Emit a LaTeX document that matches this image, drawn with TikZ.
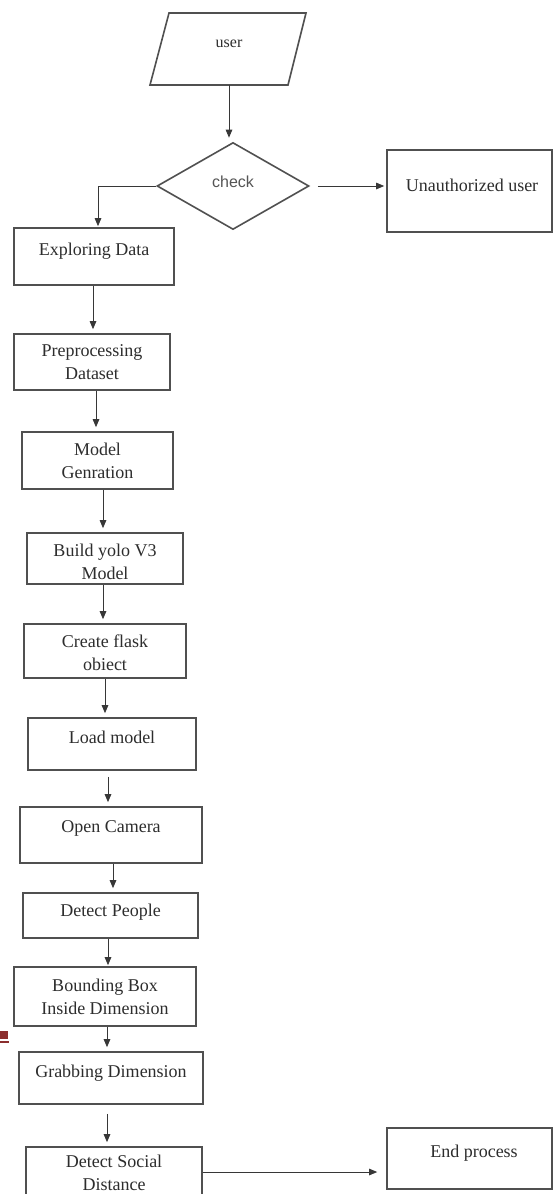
\documentclass[tikz,border=0pt]{standalone}
\usepackage{fontspec}
\setmainfont{Liberation Serif}
\newfontfamily\sansf{Liberation Sans}
\usetikzlibrary{shapes.geometric,arrows.meta,calc}
\definecolor{edge}{RGB}{80,80,80}
\definecolor{wire}{RGB}{55,55,55}
\definecolor{ink}{RGB}{45,45,45}
\definecolor{inklight}{RGB}{85,85,85}
\definecolor{pagemark}{RGB}{139,46,46}
\tikzset{
  stepbox/.style={draw=edge, line width=1.6pt, rectangle, inner sep=0pt},
  lbl/.style={text=ink, font=\fontsize{18}{23}\selectfont, align=center},
  arr/.style={draw=wire, line width=0.9pt, -{Triangle[length=8pt,width=6.5pt]}, shorten >=4pt},
}
\begin{document}
\begin{tikzpicture}[x=1pt,y=-1pt]
\useasboundingbox (0,0) rectangle (554,1194);
\fill[white] (0,0) rectangle (554,1194);
\clip (0,0) rectangle (554,1194);

% user (parallelogram)
\node[inner sep=0pt, minimum width=120pt, minimum height=72pt,
      label={[lbl, font=\fontsize{16}{19}\selectfont, yshift=5pt]center:user}] (user) at (229,49) {};
\draw[draw=edge, line width=1.6pt, line join=miter] (150,85) -- (169,13) -- (306,13) -- (288,85) -- cycle;

% check (decision)
\node[draw=edge, line width=1.6pt, diamond, inner sep=0pt, minimum width=152pt, minimum height=87pt,
      label={[text=inklight, font=\sansf\fontsize{16}{19}\selectfont, yshift=4pt]center:check}] (check) at (233,186) {};

% boxes
\node[stepbox, minimum width=165pt, minimum height=82pt,
      label={[lbl, xshift=2.5pt, yshift=6pt]center:Unauthorized user}] (unauth) at (469.5,191) {};
\node[stepbox, minimum width=160pt, minimum height=57pt,
      label={[lbl, yshift=5.5pt]center:Exploring Data}] (explore) at (94,256.5) {};
\node[stepbox, minimum width=156pt, minimum height=56pt,
      label={[lbl]center:{Preprocessing\\Dataset}}] (preproc) at (92,362) {};
\node[stepbox, minimum width=151pt, minimum height=57pt,
      label={[lbl]center:{Model\\Genration}}] (model) at (97.5,460.5) {};
\node[stepbox, minimum width=156pt, minimum height=51pt,
      label={[lbl, yshift=-3pt]center:{Build yolo V3\\Model}}] (build) at (105,558.5) {};
\node[stepbox, minimum width=162pt, minimum height=54pt,
      label={[lbl, yshift=-2pt]center:{Create flask\\obiect}}] (flask) at (105,651) {};
\node[stepbox, minimum width=168pt, minimum height=52pt,
      label={[lbl, yshift=7pt]center:Load model}] (load) at (112,744) {};
\node[stepbox, minimum width=182pt, minimum height=56pt,
      label={[lbl, yshift=7pt]center:Open Camera}] (camera) at (111,835) {};
\node[stepbox, minimum width=175pt, minimum height=45pt,
      label={[lbl, yshift=3.5pt]center:Detect People}] (people) at (110.5,915.5) {};
\node[stepbox, minimum width=182pt, minimum height=59pt,
      label={[lbl]center:{Bounding Box\\Inside Dimension}}] (bbox) at (105,996.5) {};
\node[stepbox, minimum width=184pt, minimum height=52pt,
      label={[lbl, yshift=5pt]center:Grabbing Dimension}] (grab) at (111,1078) {};
\node[stepbox, minimum width=176pt, minimum height=58pt,
      label={[lbl, yshift=3pt]center:{Detect Social\\Distance}}] (social) at (114,1176) {};
\node[stepbox, minimum width=165pt, minimum height=61pt,
      label={[lbl, xshift=4.5pt, yshift=5.5pt]center:End process}] (endp) at (469.5,1158.5) {};

% connectors
\draw[arr] (user.south) -- (user.south |- check.north);
\draw[arr, shorten >=1pt] (check.west) -| ([xshift=4pt]explore.north);
\draw[arr, shorten >=2pt] ([xshift=8pt]check.east) -- (check.east -| unauth.west);
\draw[arr] ([xshift=-1pt]explore.south) -- ([xshift=-1pt]explore.south |- preproc.north);
\draw[arr] ([xshift=4pt]preproc.south) -- ([xshift=4pt]preproc.south |- model.north);
\draw[arr] ([xshift=5.5pt]model.south) -- ([xshift=5.5pt]model.south |- build.north);
\draw[arr] ([xshift=-2pt]build.south) -- ([xshift=-2pt]build.south |- flask.north);
\draw[arr] (flask.south) -- (flask.south |- load.north);
\draw[arr, shorten <=6pt] ([xshift=-4pt]load.south) -- ([xshift=-4pt]load.south |- camera.north);
\draw[arr] ([xshift=2pt]camera.south) -- ([xshift=2pt]camera.south |- people.north);
\draw[arr, shorten >=1pt] ([xshift=-2.5pt]people.south) -- ([xshift=-2.5pt]people.south |- bbox.north);
\draw[arr] ([xshift=2pt]bbox.south) -- ([xshift=2pt]bbox.south |- grab.north);
\draw[arr, shorten <=9pt] ([xshift=-4pt]grab.south) -- ([xshift=-4pt]grab.south |- social.north);
\draw[arr, shorten >=9pt] ([yshift=4pt]social.east) -- ([yshift=4pt]social.east -| endp.west);

% small page mark at left edge
\fill[pagemark] (0,1031) rectangle (8,1039);
\fill[pagemark] (0,1041) rectangle (9,1043);
\end{tikzpicture}
\end{document}
